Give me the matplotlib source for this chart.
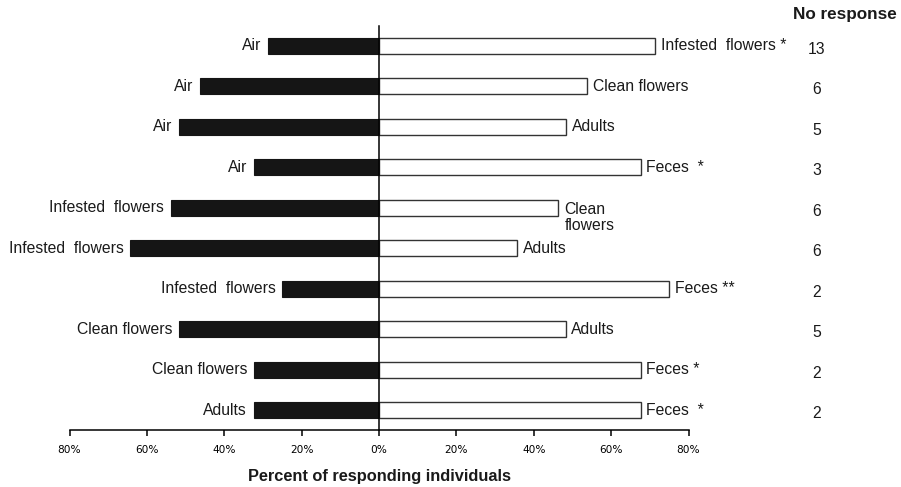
import matplotlib
matplotlib.use("Agg")
import matplotlib.pyplot as plt
import matplotlib.transforms as mtransforms

plt.rcParams['font.family'] = ['Liberation Sans', 'DejaVu Sans']

# Choice tests: left option vs right option, percent of responding individuals
left_labels = ["Air", "Air", "Air", "Air", "Infested  flowers", "Infested  flowers",
               "Infested  flowers", "Clean flowers", "Clean flowers", "Adults"]
right_labels = ["Infested  flowers *", "Clean flowers", "Adults", "Feces  *", "Clean\nflowers",
                "Adults", "Feces **", "Adults", "Feces *", "Feces  *"]
left_pct = [28.6, 46.2, 51.6, 32.4, 53.8, 64.3, 25.0, 51.7, 32.4, 32.4]
right_pct = [71.4, 53.8, 48.4, 67.6, 46.2, 35.7, 75.0, 48.3, 67.6, 67.6]
no_response = [13, 6, 5, 3, 6, 6, 2, 5, 2, 2]
tick_values = [-80, -60, -40, -20, 0, 20, 40, 60, 80]
tick_labels = ["80%", "60%", "40%", "20%", "0%", "20%", "40%", "60%", "80%"]

fig = plt.figure(figsize=(9.01, 4.87), dpi=100)
ax = fig.add_axes([69.5 / 901, 57 / 487, 619 / 901, 404 / 487])

rows = list(range(len(left_pct)))
bar_h = 0.4
ax.barh(rows, [-v for v in left_pct], height=bar_h, color="#151515",
        edgecolor="#151515", linewidth=0.8)
ax.barh(rows, right_pct, height=bar_h, color="white",
        edgecolor="#333333", linewidth=1.0)

ax.set_xlim(-80, 80)
ax.set_ylim(9.49, -0.49)

lab_fs = 11.3
txt_col = "#1a1a1a"
for i in rows:
    ax.text(-left_pct[i] - 1.7, i, left_labels[i], ha="right", va="center",
            fontsize=lab_fs, color=txt_col)
    if "\n" in right_labels[i]:
        ax.annotate(right_labels[i], xy=(right_pct[i], i), xytext=(5, 4.5),
                    textcoords="offset points", ha="left", va="top",
                    fontsize=lab_fs, color=txt_col, linespacing=1.15)
    else:
        ax.text(right_pct[i] + 1.4, i, right_labels[i], ha="left", va="center",
                fontsize=lab_fs, color=txt_col)

# No-response counts column
trans = mtransforms.blended_transform_factory(fig.transFigure, ax.transData)
for i in rows:
    ax.text(817 / 901, i + 0.09, str(no_response[i]),
            transform=trans, ha="center", va="center", fontsize=lab_fs,
            color=txt_col, clip_on=False)
fig.text(897 / 901, 1 - 15 / 487, "No response", ha="right", va="center",
         fontsize=12.3, fontweight="bold", color=txt_col)

# Axes styling
for side in ["top", "right"]:
    ax.spines[side].set_visible(False)
ax.spines["left"].set_position(("data", 0))
ax.spines["left"].set_linewidth(1.1)
ax.spines["bottom"].set_linewidth(1.1)
ax.set_yticks([])
ax.set_xticks(tick_values)
ax.set_xticklabels(tick_labels, fontsize=7.6, family=["DejaVu Sans"])
ax.tick_params(axis="x", direction="out", length=4, width=1.1, pad=7)
ax.set_xlabel("Percent of responding individuals", fontsize=11.8,
              fontweight="bold", labelpad=10, color=txt_col)

fig.savefig("out.png", dpi=100)
